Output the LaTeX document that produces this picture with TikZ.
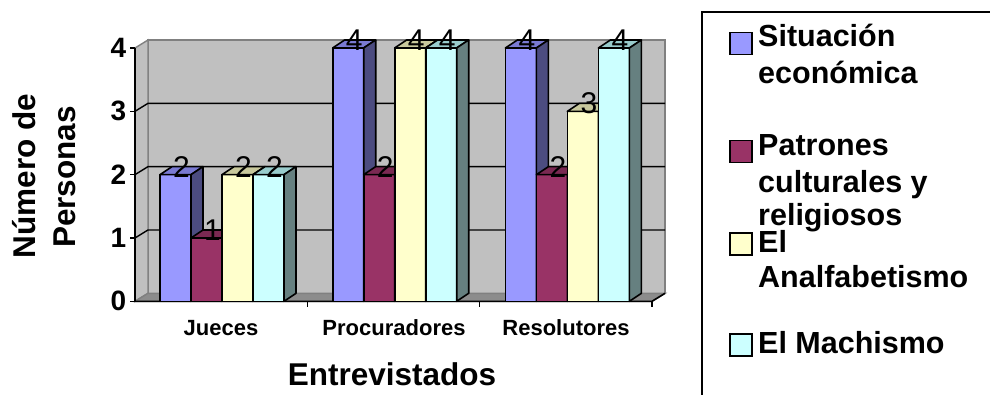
\documentclass[tikz,border=0pt]{standalone}
\usepackage{fontspec}
\setmainfont{Liberation Sans}
\definecolor{wallc}{HTML}{C0C0C0}
\definecolor{wallline}{HTML}{808080}
\definecolor{floorc}{HTML}{8C8C8C}
\definecolor{cA}{HTML}{9999FF}
\definecolor{cAtop}{HTML}{7A7AD2}
\definecolor{cAside}{HTML}{4C4C80}
\definecolor{cB}{HTML}{993366}
\definecolor{cBtop}{HTML}{7A2952}
\definecolor{cBside}{HTML}{4C1933}
\definecolor{cC}{HTML}{FFFFCC}
\definecolor{cCtop}{HTML}{C8C89C}
\definecolor{cCside}{HTML}{80806A}
\definecolor{cD}{HTML}{CCFFFF}
\definecolor{cDtop}{HTML}{99CCCC}
\definecolor{cDside}{HTML}{668080}
\tikzset{
  barline/.style={draw=black, line width=1.6pt, line join=round},
  gridl/.style={draw=black, line width=1.4pt},
  axisl/.style={draw=black, line width=1.6pt},
  wall/.style={fill=wallc, draw=wallline, line width=1.4pt},
  ticklab/.style={font=\fontsize{28}{30}\selectfont\bfseries, anchor=east, inner sep=0pt},
  catlab/.style={font=\fontsize{22}{24}\selectfont\bfseries, anchor=base, inner sep=0pt},
  titlelab/.style={font=\fontsize{31.5}{36}\selectfont\bfseries, anchor=base, inner sep=0pt},
  datalab/.style={font=\fontsize{30}{32}\selectfont, anchor=base, inner sep=0pt},
  legtext/.style={font=\fontsize{30.5}{36}\selectfont\bfseries, anchor=base west, inner sep=0pt},
  legsq/.style={draw=black, line width=1.4pt, minimum size=22pt, inner sep=0pt},
}
\begin{document}
\begin{tikzpicture}[x=1pt, y=-1pt]
\useasboundingbox (0,0) rectangle (990,394);
% walls and floor
\path[wall] (148,40) rectangle (665,293.3);
\path[wall] (135,48) -- (148,40) -- (148,293.3) -- (135,301.3) -- cycle;
\path[fill=floorc, draw=wallline, line width=1.4pt] (135,301.3) -- (148,293.3) -- (665,293.3) -- (652,301.3) -- cycle;
% gridlines
\foreach \v in {1,2,3} {
  \draw[gridl] (135,{301.3-63.33*\v}) -- (148,{293.3-63.33*\v}) -- (665,{293.3-63.33*\v});
}
% axes
\coordinate (yb) at (135,301.3);
\coordinate (yt) at (135,48);
\coordinate (xr) at (652,301.3);
\coordinate (xrb) at (665,293.3);
\draw[axisl] (yt) -- (yb) -- (xr) -- (xrb);
\foreach \v in {0,1,2,3,4} {
  \coordinate (yt\v) at (135,{301.3-63.33*\v});
  \draw[axisl] (yt\v) -- ++(-5,0) node[ticklab, xshift=-3pt] (ylab\v) {\v};
}
\foreach \k in {1,2,3} {
  \coordinate (xt\k) at ({135+172.33*\k},301.3);
  \draw[axisl] (xt\k) -- ++(0,6);
}
% bars
\foreach \g/\a/\b/\c/\d in {0/2/1/2/2, 1/4/2/4/4, 2/4/2/3/4} {
  \foreach \i/\v/\col in {0/\a/cA, 1/\b/cB, 2/\c/cC, 3/\d/cD} {
    \pgfmathsetmacro\xl{160+172.7*\g+31*\i}
    \pgfmathsetmacro\xr{\xl+31}
    \pgfmathsetmacro\yt{301.3-63.33*\v}
    \path[barline, fill=\col] (\xl,301.3) rectangle (\xr,\yt);
    \path[barline, fill=\col top] (\xl,\yt) -- ++(12,-8) -- ++(31,0) -- (\xr,\yt) -- cycle;
    \path[barline, fill=\col side] (\xr,301.3) -- ++(12,-8) -- ({\xr+12},{\yt-8}) -- (\xr,\yt) -- cycle;
    \coordinate (top-\g-\i) at ({\xl+21.5},{\yt+2.5});
  }
}
% data labels
\foreach \g/\a/\b/\c/\d in {0/2/1/2/2, 1/4/2/4/4, 2/4/2/3/4} {
  \foreach \i/\v in {0/\a, 1/\b, 2/\c, 3/\d} {
    \node[datalab] (dl-\g-\i) at (top-\g-\i) {\v};
  }
}
% category labels
\node[catlab] (cat1) at (221,335) {Jueces};
\node[catlab] (cat2) at (394,335) {Procuradores};
\node[catlab] (cat3) at (566,335) {Resolutores};
\node[titlelab] (xtitle) at (392,385) {Entrevistados};
\node[titlelab, rotate=90] (ytitle1) at (35,176) {Número de};
\node[titlelab, rotate=90] (ytitle2) at (75,177) {Personas};
% legend
\draw[line width=2pt] (995,12) -- (702,12) -- (702,400);
\node[legsq, fill=cA] (sq1) at (741,43.5) {};
\node[legsq, fill=cB] (sq2) at (741,151.5) {};
\node[legsq, fill=cC] (sq3) at (741,244) {};
\node[legsq, fill=cD] (sq4) at (741,345) {};
\node[legtext] (lt1a) at (758,46) {Situación};
\node[legtext] (lt1b) at (758,83) {económica};
\node[legtext] (lt2a) at (758,155) {Patrones};
\node[legtext] (lt2b) at (758,192) {culturales y};
\node[legtext] (lt2c) at (758,225) {religiosos};
\node[legtext] (lt3a) at (758,252) {El};
\node[legtext] (lt3b) at (758,287) {Analfabetismo};
\node[legtext] (lt4) at (758,353) {El Machismo};
\end{tikzpicture}
\end{document}
